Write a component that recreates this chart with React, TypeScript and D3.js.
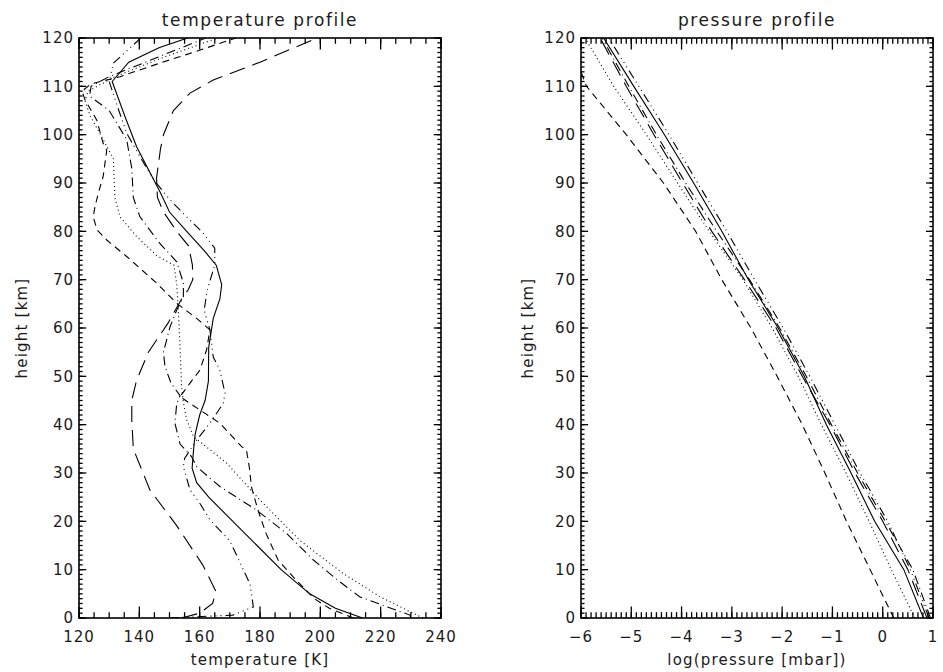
import React from "react";
import * as d3 from "d3";

// temperature profiles, [height km, temperature K]
const tempSolid: [number, number][] = [
  [0, 214], [2, 205], [5, 196.5], [10, 187], [15, 179], [20, 171], [25, 163],
  [28, 159], [31, 157.5], [35, 158], [38, 158.5], [42, 160], [45, 161.8],
  [49, 162.9], [56, 163], [62, 164.5], [66, 166.7], [69, 167.3], [73, 165.5],
  [76, 161.5], [80, 155.7], [84, 150], [88, 147], [97.5, 139.1], [103.8, 135.2],
  [111, 131], [115, 136.5], [118, 146.5], [120, 156],
];
const tempDotted: [number, number][] = [
  [0, 234], [4.4, 219.8], [9.2, 207.6], [16, 193.3], [24.4, 180], [32, 169],
  [37.5, 158], [41, 155.7], [45, 154.5], [48, 154], [56, 153.5], [64, 152.9],
  [69, 152.4], [73, 151.5], [75, 145.7], [79, 139], [83, 133.6], [87, 131.9],
  [95, 131.4], [99, 128], [104, 123.6], [107, 122], [109, 123], [112, 132],
  [116, 148], [120, 166],
];
const tempDashed: [number, number][] = [
  [0, 211], [2, 203], [4, 198], [8.5, 191], [12, 186], [17.5, 182], [22, 179.5],
  [27, 177.2], [31, 176.5], [34.8, 175.5], [35.4, 174], [40.3, 166.7],
  [44.4, 156.8], [45.8, 153.5], [48.6, 156.8], [51.3, 160.1], [55.5, 162.3],
  [59.6, 163.4], [62, 159], [65.1, 152.4], [69.3, 145.7], [74.8, 135.8],
  [78.2, 129.2], [80.3, 126], [83, 124.7], [85.1, 125.3], [87.9, 126.4],
  [91.3, 128], [96.8, 129.2], [98.2, 128], [103, 125.9], [107.2, 122],
  [109, 121], [110.5, 124], [112, 133.6], [114.8, 146.8], [117.5, 160.1],
  [120, 172],
];
const tempDashDot: [number, number][] = [
  [0, 230], [0.6, 229.7], [4.4, 213], [8, 205.4], [12, 197.7], [17.5, 188.8],
  [22.3, 178.9], [27.2, 166.7], [31.3, 159], [33.4, 157.3], [36, 153.5],
  [40.3, 151.8], [44.4, 152.4], [46, 153.5], [48.6, 150.5], [52, 148.5],
  [55, 148], [60.3, 150.2], [63.7, 152.4], [66.5, 154.6], [69.3, 154.6],
  [73.7, 152.4], [77.5, 146.8], [83, 140.2], [87, 138], [93, 137.5],
  [99, 135.8], [105, 130], [108, 123.5], [110, 124], [112, 130], [115, 142],
  [120, 162],
];
const tempDashDot3: [number, number][] = [
  [0, 150], [0.6, 171], [2.3, 177.8], [7, 176.7], [16, 170], [20.3, 163.4],
  [23.7, 160.1], [26.5, 156.8], [31.3, 154.6], [33, 155], [36.8, 159],
  [40.3, 163.4], [44.4, 167.8], [46.5, 168.4], [51.3, 166.7], [54, 164.5],
  [59.6, 163.4], [63.7, 161.5], [67.9, 162.5], [73, 165], [76.5, 165],
  [79.6, 161.2], [83, 155.7], [86.5, 150.2], [90.3, 145.2], [94.8, 140.8],
  [100.3, 135.8], [107.2, 132], [111, 130], [114.8, 131.4], [120, 140.5],
];
const tempLongDash: [number, number][] = [
  [0, 154], [1, 160], [3, 164.3], [5.5, 165.4], [11, 161], [19, 152.5],
  [26.5, 143.5], [35, 138], [41, 137.5], [45, 137.5], [49, 139], [55, 143],
  [61, 149.5], [66, 154], [68, 156.3], [70, 157.7], [73, 157.6], [77, 156.3],
  [80, 152.4], [84, 148], [87, 146], [91, 145.7], [97, 147], [100, 148],
  [105, 151.3], [108.6, 156.8], [111.3, 164.5], [115, 180], [120, 199],
];

// pressure profiles, [height km, log10 pressure mbar]
const pressSolid: [number, number][] = [
  [0, 0.81], [10, 0.42], [20, -0.16], [30, -0.63], [40, -1.12], [50, -1.56],
  [60, -2.08], [70, -2.67], [80, -3.2], [90, -3.76], [100, -4.34], [110, -4.95],
  [120, -5.55],
];
const pressDotted: [number, number][] = [
  [0, 0.64], [10, 0.17], [20, -0.27], [30, -0.73], [40, -1.22], [50, -1.68],
  [60, -2.2], [70, -2.78], [80, -3.45], [90, -4.08], [100, -4.7], [110, -5.35],
  [120, -5.92],
];
const pressDashed: [number, number][] = [
  [0, 0.22], [10, -0.25], [20, -0.72], [30, -1.15], [40, -1.6], [50, -2.1],
  [60, -2.62], [70, -3.2], [80, -3.72], [90, -4.36], [100, -5.1], [110, -5.89],
  [113, -6.0],
];
const pressDashDot: [number, number][] = [
  [0, 0.95], [10, 0.6], [20, 0.05], [30, -0.5], [40, -1.02], [50, -1.52],
  [60, -2.05], [70, -2.65], [80, -3.3], [90, -3.92], [100, -4.5], [110, -5.05],
  [120, -5.58],
];
const pressDashDot3: [number, number][] = [
  [0, 0.92], [10, 0.55], [20, 0.1], [30, -0.45], [40, -0.95], [50, -1.45],
  [60, -1.98], [70, -2.55], [80, -3.1], [90, -3.68], [100, -4.25], [110, -4.85],
  [120, -5.45],
];
const pressLongDash: [number, number][] = [
  [0, 0.88], [10, 0.5], [20, 0.0], [30, -0.55], [40, -1.05], [50, -1.6],
  [60, -2.12], [70, -2.75], [80, -3.4], [90, -3.98], [100, -4.55], [110, -5.1],
  [120, -5.62],
];

const tempTicks = [120, 140, 160, 180, 200, 220, 240];
const logpTicks = [-6, -5, -4, -3, -2, -1, 0, 1];
const heightTicks = [0, 10, 20, 30, 40, 50, 60, 70, 80, 90, 100, 110, 120];

const DASH = {
  solid: "none",
  dotted: "1,3",
  dashed: "7,5",
  dashDot: "9,4,1,4",
  dashDot3: "9,4,1,4,1,4,1,4",
  longDash: "16,8",
};

const FONT = "'DejaVu Sans', sans-serif";
const TOP = 38;
const BOTTOM = 618;

function Panel({ id, left, right, xDomain, xTicks, xMinorStep, series, title, xLabel, yLabelX }) {
  const x = d3.scaleLinear().domain(xDomain).range([left, right]);
  const y = d3.scaleLinear().domain([0, 120]).range([BOTTOM, TOP]);
  const line = d3
    .line<[number, number]>()
    .x((d) => x(d[1]))
    .y((d) => y(d[0]));

  const xLen = 0.02 * (BOTTOM - TOP);
  const yLen = 0.02 * (right - left);
  const xMinor = d3.range(xDomain[0], xDomain[1] + 1e-6, xMinorStep);
  const yMinor = d3.range(0, 120.001, 1);
  const fmt = (v: number) => (v < 0 ? "\u2212" + Math.abs(v) : String(v));

  return (
    <g>
      <clipPath id={id}>
        <rect x={left} y={TOP} width={right - left} height={BOTTOM - TOP} />
      </clipPath>
      <g clipPath={`url(#${id})`} fill="none" stroke="#000" strokeWidth={1.1}>
        {series.map((s, i) => (
          <path key={i} d={line(s.data)} strokeDasharray={s.dash} />
        ))}
      </g>
      <g stroke="#000" strokeWidth={1.3}>
        {xMinor.map((v, i) => (
          <g key={"xm" + i}>
            <line x1={x(v)} x2={x(v)} y1={BOTTOM} y2={BOTTOM - xLen / 2} />
            <line x1={x(v)} x2={x(v)} y1={TOP} y2={TOP + xLen / 2} />
          </g>
        ))}
        {xTicks.map((v) => (
          <g key={"x" + v}>
            <line x1={x(v)} x2={x(v)} y1={BOTTOM} y2={BOTTOM - xLen} />
            <line x1={x(v)} x2={x(v)} y1={TOP} y2={TOP + xLen} />
          </g>
        ))}
        {yMinor.map((v, i) => (
          <g key={"ym" + i}>
            <line x1={left} x2={left + yLen / 2} y1={y(v)} y2={y(v)} />
            <line x1={right} x2={right - yLen / 2} y1={y(v)} y2={y(v)} />
          </g>
        ))}
        {heightTicks.map((v) => (
          <g key={"y" + v}>
            <line x1={left} x2={left + yLen} y1={y(v)} y2={y(v)} />
            <line x1={right} x2={right - yLen} y1={y(v)} y2={y(v)} />
          </g>
        ))}
        <rect x={left} y={TOP} width={right - left} height={BOTTOM - TOP} fill="none" strokeWidth={1.6} />
      </g>
      <g fontFamily={FONT} fill="#1a1a1a" fontSize={15} letterSpacing={1}>
        {xTicks.map((v) => (
          <text key={"xl" + v} x={x(v)} y={BOTTOM + 24} textAnchor="middle">
            {fmt(v)}
          </text>
        ))}
        {heightTicks.map((v) => (
          <text key={"yl" + v} x={left - 5} y={y(v)} dy="0.36em" textAnchor="end">
            {v}
          </text>
        ))}
        <text x={(left + right) / 2} y={26} textAnchor="middle" fontSize={17} letterSpacing={1.6}>
          {title}
        </text>
        <text x={(left + right) / 2} y={665} textAnchor="middle" fontSize={15} letterSpacing={1.2}>
          {xLabel}
        </text>
        <text
          transform={`translate(${yLabelX},${(TOP + BOTTOM) / 2}) rotate(-90)`}
          textAnchor="middle"
          fontSize={15}
          letterSpacing={1.2}
        >
          height [km]
        </text>
      </g>
    </g>
  );
}

export default function App() {
  const tempSeries = [
    { data: tempSolid, dash: DASH.solid },
    { data: tempDotted, dash: DASH.dotted },
    { data: tempDashed, dash: DASH.dashed },
    { data: tempDashDot, dash: DASH.dashDot },
    { data: tempDashDot3, dash: DASH.dashDot3 },
    { data: tempLongDash, dash: DASH.longDash },
  ];
  const pressSeries = [
    { data: pressSolid, dash: DASH.solid },
    { data: pressDotted, dash: DASH.dotted },
    { data: pressDashed, dash: DASH.dashed },
    { data: pressDashDot, dash: DASH.dashDot },
    { data: pressDashDot3, dash: DASH.dashDot3 },
    { data: pressLongDash, dash: DASH.longDash },
  ];
  return (
    <svg
      width={943}
      height={672}
      style={{ position: "absolute", left: 0, top: 0, background: "#fff" }}
    >
      <Panel
        id="clipT"
        left={79}
        right={441}
        xDomain={[120, 240]}
        xTicks={tempTicks}
        xMinorStep={5}
        series={tempSeries}
        title="temperature profile"
        xLabel="temperature [K]"
        yLabelX={27}
      />
      <Panel
        id="clipP"
        left={581}
        right={933}
        xDomain={[-6, 1]}
        xTicks={logpTicks}
        xMinorStep={0.1}
        series={pressSeries}
        title="pressure profile"
        xLabel="log(pressure [mbar])"
        yLabelX={533}
      />
    </svg>
  );
}
